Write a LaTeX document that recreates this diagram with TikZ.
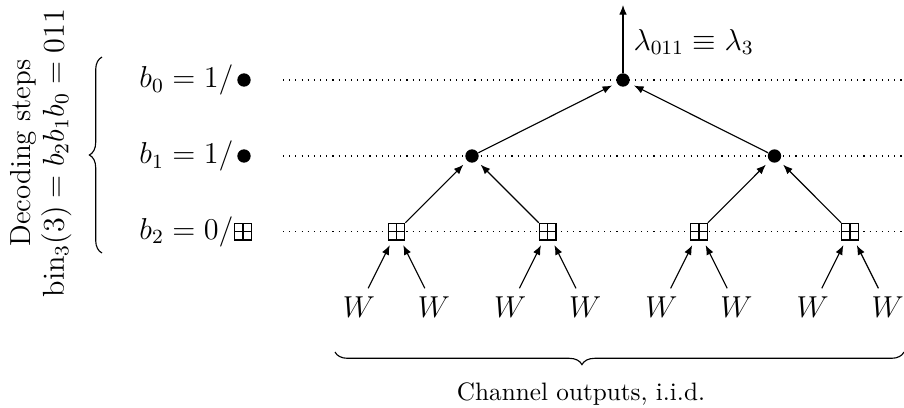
\documentclass[tikz,border=0pt]{standalone}
\usepackage{amsmath,amssymb}
\usetikzlibrary{arrows.meta,decorations.pathreplacing}
\begin{document}
\begin{tikzpicture}[x=0.3968pt,y=-0.3968pt,
  dotnode/.style={circle,fill=black,inner sep=0pt,minimum size=5.3pt},
  boxnode/.style={rectangle,draw,fill=white,inner sep=0pt,minimum size=6.6pt,line width=0.5pt,
    path picture={\draw[line width=0.5pt] (path picture bounding box.north) -- (path picture bounding box.south)
      (path picture bounding box.west) -- (path picture bounding box.east);}},
  wnode/.style={font=\large, inner sep=3pt},
  edge/.style={-{Latex[length=3.8pt,width=3pt]}, shorten >=2pt, line width=0.45pt},
  levelline/.style={dotted, line width=0.45pt},
  lbl/.style={font=\large, anchor=base east, inner sep=0pt},
  bracestyle/.style={decorate, line width=0.45pt},
]
\useasboundingbox (0,0) rectangle (904,407);

% level guide lines
\draw[levelline] (283,80) -- (904,80);
\draw[levelline] (283,156) -- (904,156);
\draw[levelline] (283,231.7) -- (904,231.7);

% tree nodes
\node[dotnode] (r) at (623,80) {};
\node[dotnode] (a1) at (472,156) {};
\node[dotnode] (a2) at (774.5,156) {};
\node[boxnode] (c1) at (396.5,231.7) {};
\node[boxnode] (c2) at (547.7,231.7) {};
\node[boxnode] (c3) at (698.9,231.7) {};
\node[boxnode] (c4) at (850.1,231.7) {};

\node[wnode] (w1) at (359,306.7) {$W$};
\node[wnode] (w2) at (434,306.7) {$W$};
\node[wnode] (w3) at (510.2,306.7) {$W$};
\node[wnode] (w4) at (585.2,306.7) {$W$};
\node[wnode] (w5) at (661.4,306.7) {$W$};
\node[wnode] (w6) at (736.4,306.7) {$W$};
\node[wnode] (w7) at (812.6,306.7) {$W$};
\node[wnode] (w8) at (887.6,306.7) {$W$};

\draw[edge] (w1) -- (c1);
\draw[edge] (w2) -- (c1);
\draw[edge] (w3) -- (c2);
\draw[edge] (w4) -- (c2);
\draw[edge] (w5) -- (c3);
\draw[edge] (w6) -- (c3);
\draw[edge] (w7) -- (c4);
\draw[edge] (w8) -- (c4);
\draw[edge] (c1) -- (a1);
\draw[edge] (c2) -- (a1);
\draw[edge] (c3) -- (a2);
\draw[edge] (c4) -- (a2);
\draw[edge] (a1) -- (r);
\draw[edge] (a2) -- (r);

\coordinate (top) at (623,5);
\draw[edge, shorten >=0pt] (r) -- (top);
\node[font=\large, anchor=base west, inner sep=0pt] (lam) at (633,50) {$\lambda_{011} \equiv \lambda_3$};

% left labels
\node[lbl] (l0) at (234,87.6) {$b_0 = 1/$};
\node[dotnode] (l0s) at (244,80) {};
\node[lbl] (l1) at (234,163.6) {$b_1 = 1/$};
\node[dotnode] (l1s) at (244,156) {};
\node[lbl] (l2) at (234,239.3) {$b_2 = 0/$};
\node[boxnode] (l2s) at (243,231.7) {};

% left brace and rotated text
\draw[bracestyle, decoration={brace,amplitude=5pt}] (102,253) -- (102,57);
\node[rotate=90, align=center, font=\fontsize{11.5}{13.1}\selectfont] (dec) at (41,153)
  {Decoding steps\\ $\mathrm{bin}_3(3) = b_2b_1b_0 = 011$};

% bottom brace
\draw[bracestyle, decoration={brace,amplitude=5pt,aspect=0.566}] (904,352) -- (335,352);
\node[anchor=base, inner sep=0pt] (co) at (581,400) {Channel outputs, i.i.d.};
\end{tikzpicture}
\end{document}
